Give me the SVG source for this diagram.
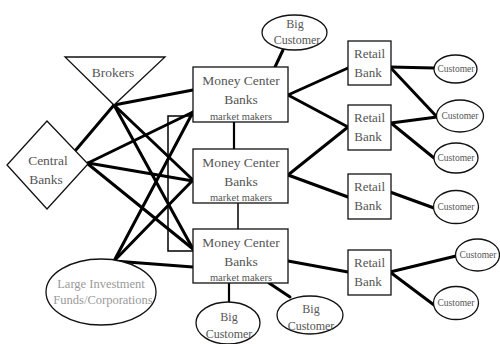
<svg xmlns="http://www.w3.org/2000/svg" width="500" height="344" viewBox="0 0 500 344">
<style>
.shape{fill:#fff;stroke:#111;stroke-width:1.3}
.t{font-family:"Liberation Serif","Times New Roman",serif;fill:#555;text-anchor:middle}
.lt{fill:#9a9a9a}
.thick{stroke:#000;stroke-width:3;fill:none;stroke-linecap:round}
.mid{stroke:#000;stroke-width:2.2;fill:none}
.thin{stroke:#000;stroke-width:1.5;fill:none}
</style>
<rect width="500" height="344" fill="#fff"/>
<g id="connectors">
<line class="thick" x1="114" y1="105" x2="193" y2="90"/>
<line class="thick" x1="114" y1="105" x2="75" y2="151"/>
<line class="thick" x1="114" y1="105" x2="193" y2="180"/>
<line class="thick" x1="114" y1="105" x2="193" y2="249"/>
<line class="thick" x1="88" y1="163" x2="193" y2="112"/>
<line class="thick" x1="88" y1="163" x2="193" y2="181"/>
<line class="thick" x1="88" y1="164" x2="193" y2="249"/>
<line class="thick" x1="114" y1="261" x2="193" y2="112"/>
<line class="thick" x1="114" y1="261" x2="193" y2="180"/>
<line class="thick" x1="114" y1="261" x2="193" y2="267"/>
<polyline class="thin" points="193,116 168,116 168,251 193,251"/>
<line class="mid" x1="234" y1="122" x2="234" y2="149"/>
<line class="thin" x1="238" y1="203" x2="238" y2="229"/>
<line class="thick" x1="283" y1="50" x2="275" y2="67"/>
<line class="mid" x1="229" y1="283" x2="229" y2="302"/>
<line class="thick" x1="269" y1="283" x2="290" y2="297"/>
<line class="thick" x1="288" y1="95" x2="348" y2="68"/>
<line class="thick" x1="288" y1="95" x2="348" y2="127"/>
<line class="thick" x1="288" y1="175" x2="348" y2="127"/>
<line class="thick" x1="288" y1="175" x2="348" y2="197"/>
<line class="thick" x1="288" y1="261" x2="348" y2="272"/>
<line class="thick" x1="390" y1="67" x2="434" y2="68"/>
<line class="thick" x1="390" y1="67" x2="437" y2="117"/>
<line class="thick" x1="391" y1="123" x2="437" y2="117"/>
<line class="thick" x1="391" y1="123" x2="434" y2="158"/>
<line class="thick" x1="390" y1="192" x2="434" y2="208"/>
<line class="thick" x1="390" y1="272" x2="456" y2="256"/>
<line class="thick" x1="390" y1="272" x2="434" y2="305"/>
</g>
<g id="brokers">
<polygon class="shape" points="65,57 165,57 114,105"/>
<text class="t" x="113" y="77" font-size="13.5">Brokers</text>
</g>
<g id="central-banks">
<polygon class="shape" points="47,121 88,164 47,209 7,165"/>
<text class="t" x="48" y="165" font-size="13.5">Central</text>
<text class="t" x="46" y="184" font-size="13.5">Banks</text>
</g>
<g id="large-investment">
<ellipse class="shape" cx="101" cy="292" rx="55" ry="33"/>
<text class="t lt" x="101" y="288" font-size="12.5">Large Investment</text>
<text class="t lt" x="103" y="304" font-size="12.5">Funds/Corporations</text>
</g>
<g id="mcb1">
<rect class="shape" x="193" y="67" width="95" height="55"/>
<text class="t" x="241" y="85" font-size="13.5">Money Center</text>
<text class="t" x="241" y="104" font-size="13.5">Banks</text>
<text class="t" x="241" y="120" font-size="10.5">market makers</text>
</g>
<g id="mcb2">
<rect class="shape" x="193" y="149" width="95" height="54"/>
<text class="t" x="241" y="167" font-size="13.5">Money Center</text>
<text class="t" x="241" y="186" font-size="13.5">Banks</text>
<text class="t" x="241" y="201" font-size="10.5">market makers</text>
</g>
<g id="mcb3">
<rect class="shape" x="193" y="229" width="95" height="54"/>
<text class="t" x="241" y="247" font-size="13.5">Money Center</text>
<text class="t" x="241" y="266" font-size="13.5">Banks</text>
<text class="t" x="241" y="281" font-size="10.5">market makers</text>
</g>
<g id="big-customer-top">
<ellipse class="shape" cx="294.5" cy="32.5" rx="32.5" ry="17.5"/>
<text class="t" x="295" y="28" font-size="12">Big</text>
<text class="t" x="297" y="44" font-size="12">Customer</text>
</g>
<g id="big-customer-bottom-left">
<ellipse class="shape" cx="228" cy="323" rx="32" ry="21"/>
<text class="t" x="229" y="321" font-size="12">Big</text>
<text class="t" x="229" y="338" font-size="12">Customer</text>
</g>
<g id="big-customer-bottom-right">
<ellipse class="shape" cx="310" cy="315" rx="33" ry="19"/>
<text class="t" x="311" y="313" font-size="12">Big</text>
<text class="t" x="311" y="330" font-size="12">Customer</text>
</g>
<g id="retail1">
<rect class="shape" x="348" y="41" width="43" height="44"/>
<text class="t" x="369.5" y="58" font-size="13">Retail</text>
<text class="t" x="368" y="77" font-size="13">Bank</text>
</g>
<g id="retail2">
<rect class="shape" x="348" y="105" width="43" height="45"/>
<text class="t" x="369.5" y="122" font-size="13">Retail</text>
<text class="t" x="368" y="141" font-size="13">Bank</text>
</g>
<g id="retail3">
<rect class="shape" x="348" y="174" width="43" height="45"/>
<text class="t" x="369.5" y="191" font-size="13">Retail</text>
<text class="t" x="368" y="210" font-size="13">Bank</text>
</g>
<g id="retail4">
<rect class="shape" x="348" y="250" width="43" height="45"/>
<text class="t" x="369.5" y="267" font-size="13">Retail</text>
<text class="t" x="368" y="286" font-size="13">Bank</text>
</g>
<g id="customer1">
<ellipse class="shape" cx="455.5" cy="69" rx="21.5" ry="14"/>
<text class="t" x="456" y="72" font-size="9.5">Customer</text>
</g>
<g id="customer2">
<ellipse class="shape" cx="460" cy="116" rx="23.5" ry="16"/>
<text class="t" x="460" y="119" font-size="9.5">Customer</text>
</g>
<g id="customer3">
<ellipse class="shape" cx="456" cy="158" rx="22" ry="15"/>
<text class="t" x="456" y="161" font-size="9.5">Customer</text>
</g>
<g id="customer4">
<ellipse class="shape" cx="456" cy="207" rx="22.5" ry="16.5"/>
<text class="t" x="456" y="210" font-size="9.5">Customer</text>
</g>
<g id="customer5">
<ellipse class="shape" cx="477.5" cy="255" rx="22" ry="16"/>
<text class="t" x="478" y="258" font-size="9.5">Customer</text>
</g>
<g id="customer6">
<ellipse class="shape" cx="456" cy="303" rx="22.5" ry="16.5"/>
<text class="t" x="456" y="306" font-size="9.5">Customer</text>
</g>
</svg>
